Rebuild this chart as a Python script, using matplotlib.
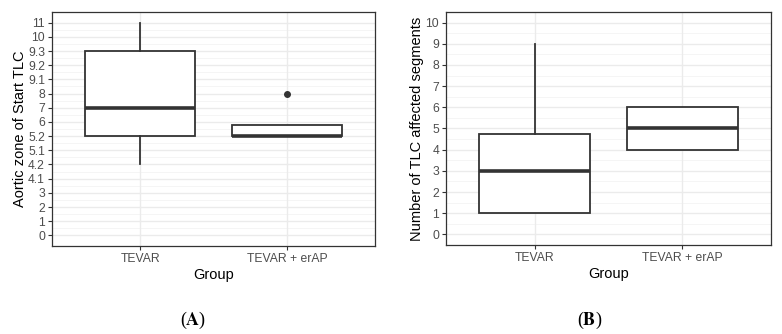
import matplotlib
matplotlib.use("Agg")
import matplotlib.pyplot as plt

groups = ["TEVAR", "TEVAR + erAP"]

# Panel A: categorical aortic zone levels (plotted at index positions)
zone_levels = ["0", "1", "2", "3", "4.1", "4.2", "5.1", "5.2", "6", "7", "8",
               "9.1", "9.2", "9.3", "10", "11"]
# box statistics expressed as level index positions
a_whislo = [5, 7]
a_q1 = [7, 7]
a_med = [9, 7]
a_q3 = [13, 7.75]
a_whishi = [15, 7.75]
a_fliers = [[], [10]]

# Panel B: number of TLC affected segments
b_whislo = [1, 4]
b_q1 = [1, 4]
b_med = [3, 5]
b_q3 = [4.75, 6]
b_whishi = [9, 6]
b_fliers = [[], []]

W, H = 782, 334
fig = plt.figure(figsize=(W / 100, H / 100), dpi=100)

def axes_px(x0, y0, x1, y1):
    return fig.add_axes([x0 / W, 1 - y1 / H, (x1 - x0) / W, (y1 - y0) / H])

FONT = "Liberation Sans"
tick_col = "#4D4D4D"
line_col = "#333333"

def draw(ax, whislo, q1, med, q3, whishi, fliers, yticks, yticklabels, ylim, ylabel):
    stats = []
    for i, g in enumerate(groups):
        stats.append(dict(label=g, whislo=whislo[i], q1=q1[i], med=med[i],
                          q3=q3[i], whishi=whishi[i], fliers=fliers[i]))
    ax.set_axisbelow(True)
    for y in yticks:
        ax.axhline(y, color="#EBEBEB", lw=1.0, zorder=0)
    for y in [v + 0.5 for v in yticks[:-1]]:
        ax.axhline(y, color="#F4F4F4", lw=0.6, zorder=0)
    for x in [1, 2]:
        ax.axvline(x, color="#EBEBEB", lw=1.0, zorder=0)
    ax.bxp(stats, positions=[1, 2], widths=0.75, showcaps=False, patch_artist=True,
           boxprops=dict(facecolor="white", edgecolor=line_col, linewidth=1.3),
           medianprops=dict(color=line_col, linewidth=2.6, solid_capstyle="butt"),
           whiskerprops=dict(color=line_col, linewidth=1.3),
           flierprops=dict(marker="o", markersize=4, markerfacecolor=line_col,
                           markeredgecolor=line_col), zorder=2)
    ax.set_xlim(0.4, 2.6)
    ax.set_ylim(*ylim)
    ax.set_xticks([1, 2])
    ax.set_xticklabels(groups, fontsize=8.7, color=tick_col, family=FONT)
    ax.set_yticks(yticks)
    ax.set_yticklabels(yticklabels, fontsize=8.7, color=tick_col, family=FONT)
    ax.tick_params(axis="both", length=3, width=0.8, color=line_col, pad=2)
    for s in ax.spines.values():
        s.set_color(line_col)
        s.set_linewidth(0.9)
    ax.set_xlabel("Group", fontsize=10.5, family=FONT, labelpad=2)
    ax.set_ylabel(ylabel, fontsize=10.5, family=FONT, labelpad=1)

axA = axes_px(52, 12, 375, 246)
draw(axA, a_whislo, a_q1, a_med, a_q3, a_whishi, a_fliers,
     list(range(len(zone_levels))), zone_levels, (-0.75, 15.75),
     "Aortic zone of Start TLC")

b_ticks = list(range(0, 11))
axB = axes_px(446, 12, 771, 245)
draw(axB, b_whislo, b_q1, b_med, b_q3, b_whishi, b_fliers,
     b_ticks, [str(t) for t in b_ticks], (-0.5, 10.5),
     "Number of TLC affected segments")

for x, lab in [(193, "A"), (590, "B")]:
    fig.text(x / W, 1 - 320 / H, r"($\mathbf{%s}$)" % lab, ha="center", va="center",
             fontsize=13, family="Liberation Serif", math_fontfamily="stix")

fig.savefig("out.png", dpi=100)
